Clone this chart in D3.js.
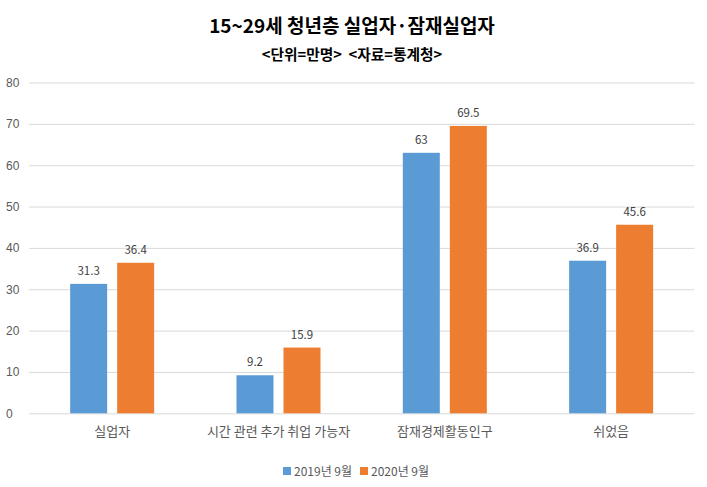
<!DOCTYPE html>
<html><head><meta charset="utf-8">
<script src="https://cdn.jsdelivr.net/npm/d3@7"></script>
<style>body{margin:0;background:#fff;}svg{display:block;font-family:"Noto Sans CJK KR","Noto Sans",sans-serif;}</style>
</head><body>
<svg id="c" width="707" height="487"></svg>
<script>
const categories = ["실업자", "시간 관련 추가 취업 가능자", "잠재경제활동인구", "쉬었음"];
const series = ["2019년 9월", "2020년 9월"];
const values2019 = [31.3, 9.2, 63, 36.9];
const values2020 = [36.4, 15.9, 69.5, 45.6];
const yTicks = [0, 10, 20, 30, 40, 50, 60, 70, 80];
const colors = ["#5B9BD5", "#ED7D31"];
const title = "15~29세 청년층 실업자·잠재실업자";
const subtitle = "<단위=만명>  <자료=통계청>";

const svg = d3.select("#c");
const mLeft = 29, mRight = 694.3, mTop = 82.5, mBottom = 413.3;
const x0 = d3.scaleBand().domain(categories).range([mLeft, mRight]);
const groupW = 84;
const x1 = d3.scaleBand().domain(series).range([0, groupW]).paddingInner(10/47);
const y = d3.scaleLinear().domain([0, 80]).range([mBottom, mTop]);

svg.append("text").attr("x", 352).attr("y", 32.5).attr("text-anchor", "middle")
  .attr("font-size", 19).attr("font-weight", "bold").attr("fill", "#000").text(title);
svg.append("text").attr("x", 352).attr("y", 59.5).attr("text-anchor", "middle")
  .attr("font-size", 14.7).attr("font-weight", "bold").attr("fill", "#000")
  .attr("xml:space", "preserve").style("white-space", "pre").text(subtitle);

// grid
const yAxis = d3.axisLeft(y).tickValues(yTicks).tickSize(-(mRight - mLeft)).tickPadding(12);
const g = svg.append("g").attr("transform", `translate(${mLeft},0)`).call(yAxis);
g.select(".domain").remove();
g.selectAll(".tick line").attr("stroke", "#d9d9d9").attr("stroke-width", 1);
g.selectAll(".tick text").attr("fill", "#595959").attr("font-size", 12).attr("text-anchor", "start").attr("x", -23);

const data = categories.map((c, i) => ({c, vals: [values2019[i], values2020[i]]}));
const grp = svg.append("g").selectAll("g").data(data).join("g")
  .attr("transform", d => `translate(${x0(d.c) + x0.bandwidth()/2 - groupW/2},0)`);
grp.selectAll("rect").data(d => d.vals.map((v, j) => ({v, s: series[j], j}))).join("rect")
  .attr("x", d => x1(d.s)).attr("width", x1.bandwidth())
  .attr("y", d => y(d.v)).attr("height", d => mBottom - y(d.v))
  .attr("fill", d => colors[d.j]);
grp.selectAll("text.lbl").data(d => d.vals.map((v, j) => ({v, s: series[j], j}))).join("text")
  .attr("class", "lbl")
  .attr("x", d => x1(d.s) + x1.bandwidth()/2).attr("y", d => y(d.v) - 9)
  .attr("text-anchor", "middle").attr("font-size", 11.5).attr("fill", "#404040")
  .text(d => d.v);

// category labels
const xAxis = d3.axisBottom(x0).tickSize(0).tickPadding(13);
const gx = svg.append("g").attr("transform", `translate(0,${mBottom})`).call(xAxis);
gx.select(".domain").remove();
gx.selectAll(".tick text").attr("fill", "#595959").attr("font-size", 13).attr("font-family", "\"Noto Sans CJK KR\",sans-serif");

// legend
const legX = [283, 360];
series.forEach((s, i) => {
  svg.append("rect").attr("x", legX[i]).attr("y", 467).attr("width", 8).attr("height", 8).attr("fill", colors[i]);
  svg.append("text").attr("x", legX[i] + 11).attr("y", 475.5).attr("font-size", 12).attr("fill", "#595959").text(s);
});
</script>
</body></html>
